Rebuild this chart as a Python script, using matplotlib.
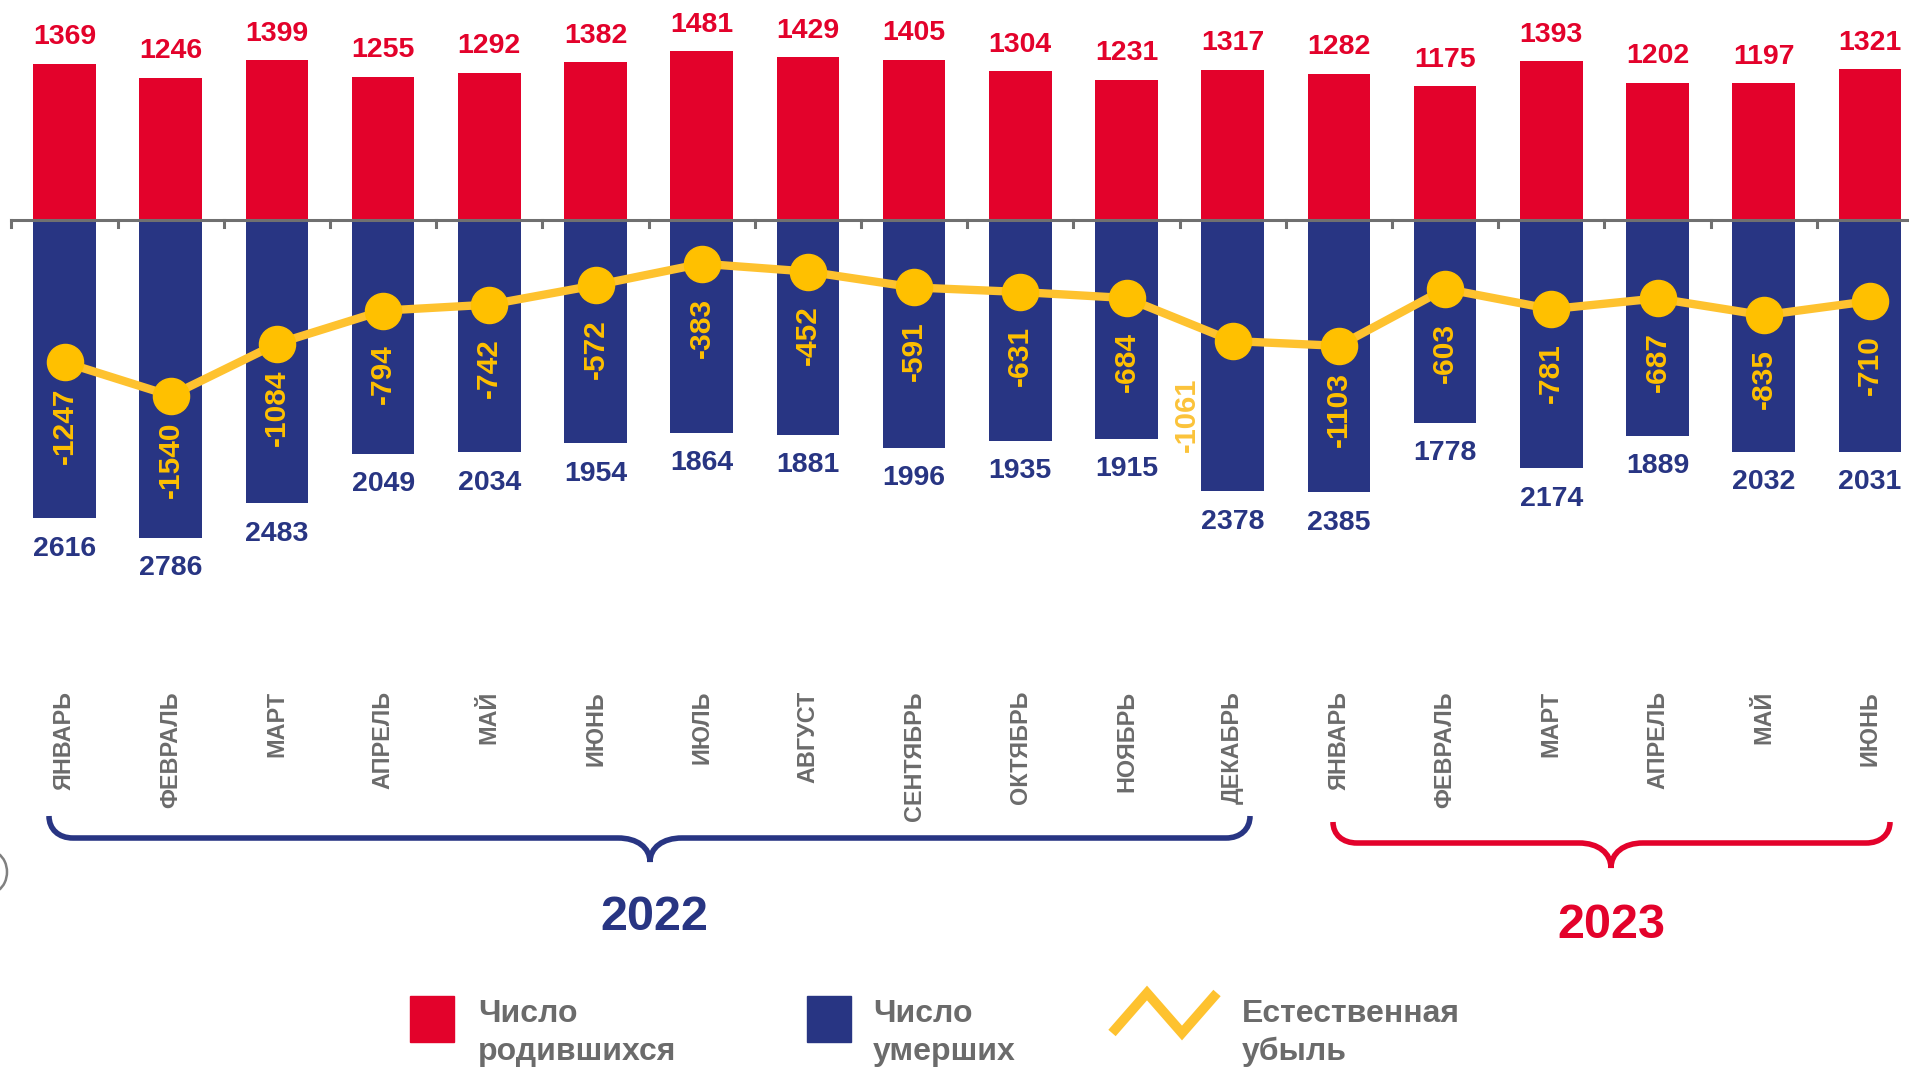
import matplotlib.pyplot as plt
from matplotlib.path import Path
from matplotlib.patches import PathPatch, Rectangle, Arc

# data
months = ["ЯНВАРЬ", "ФЕВРАЛЬ", "МАРТ", "АПРЕЛЬ", "МАЙ", "ИЮНЬ", "ИЮЛЬ", "АВГУСТ",
          "СЕНТЯБРЬ", "ОКТЯБРЬ", "НОЯБРЬ", "ДЕКАБРЬ",
          "ЯНВАРЬ", "ФЕВРАЛЬ", "МАРТ", "АПРЕЛЬ", "МАЙ", "ИЮНЬ"]
births = [1369, 1246, 1399, 1255, 1292, 1382, 1481, 1429, 1405, 1304, 1231, 1317,
          1282, 1175, 1393, 1202, 1197, 1321]
deaths = [2616, 2786, 2483, 2049, 2034, 1954, 1864, 1881, 1996, 1935, 1915, 2378,
          2385, 1778, 2174, 1889, 2032, 2031]
decline = [-1247, -1540, -1084, -794, -742, -572, -383, -452, -591, -631, -684, -1061,
           -1103, -603, -781, -687, -835, -710]
years = ["2022", "2023"]

RED = "#E3022B"
NAVY = "#283583"
YEL = "#FFC000"
YEL_LINE = "#FEC22F"
GRAY = "#6B6B6B"

W, H = 1909, 1070
plt.rcParams['font.family'] = ['Liberation Sans', 'DejaVu Sans']
plt.rcParams['font.weight'] = 'bold'

fig = plt.figure(figsize=(W / 100, H / 100), dpi=100)

# main axes spans the whole figure, zero line at 220 px from the top
step, x0c = 106.2, 64.5
yscale, y0 = 0.1141, 220
ax = fig.add_axes([0, 0, 1, 1])
ax.set_xlim(-x0c / step, (W - x0c) / step)
ax.set_ylim(-(H - y0) / yscale, y0 / yscale)
ax.axis("off")

x = list(range(len(months)))
neg_deaths = [-d for d in deaths]
ax.bar(x, births, width=0.59, color=RED, zorder=2)
ax.bar(x, neg_deaths, width=0.59, color=NAVY, zorder=2)

# zero line with small ticks between categories
ax.plot([-0.5, 18], [0, 0], color="#707070", lw=2.2, zorder=3)
for b in range(len(months) + 1):
    ax.plot([b - 0.5, b - 0.5], [0, -60], color="#707070", lw=2.2, zorder=3)

ax.plot(x, decline, color=YEL_LINE, lw=6, zorder=4)
ax.plot(x, decline, "o", color=YEL, markersize=26, zorder=5)

for i in x:
    ax.annotate(str(births[i]), (i, births[i]), xytext=(0, 19), textcoords="offset points",
                ha="center", va="center", color=RED, fontsize=20.5, fontweight="bold")
    ax.annotate(str(deaths[i]), (i, neg_deaths[i]), xytext=(0, -22), textcoords="offset points",
                ha="center", va="center", color=NAVY, fontsize=20.5, fontweight="bold")
    if months[i] == "ДЕКАБРЬ":
        ax.annotate(str(decline[i]), (i, decline[i]), xytext=(-33, -53), textcoords="offset points",
                    ha="center", va="center", rotation=90, color="#FBC33A",
                    fontsize=21, fontweight="bold", zorder=6)
    else:
        ax.annotate(str(decline[i]), (i, decline[i]), xytext=(0, -46), textcoords="offset points",
                    ha="center", va="center", rotation=90, color=YEL,
                    fontsize=21.5, fontweight="bold", zorder=6)

# overlay in pixel coordinates for labels, braces and legend
ov = fig.add_axes([0, 0, 1, 1])
ov.set_xlim(0, W)
ov.set_ylim(H, 0)
ov.axis("off")
ov.patch.set_alpha(0)

for i, m in enumerate(months):
    ov.text(x0c + step * i, 691, m, rotation=90, ha="center", va="top",
            color=GRAY, fontsize=16.8, fontweight="bold")


def brace(x0, x1, xm, ytop, yline, ytip, color):
    r, r2 = 24, 32
    verts = [(x0, ytop),
             (x0, ytop + 0.6 * (yline - ytop)), (x0 + 0.4 * r, yline), (x0 + r, yline),
             (xm - r2, yline),
             (xm - 0.4 * r2, yline), (xm, yline + 0.4 * (ytip - yline)), (xm, ytip),
             (xm, yline + 0.4 * (ytip - yline)), (xm + 0.4 * r2, yline), (xm + r2, yline),
             (x1 - r, yline),
             (x1 - 0.4 * r, yline), (x1, ytop + 0.6 * (yline - ytop)), (x1, ytop)]
    codes = ([Path.MOVETO] + [Path.CURVE4] * 3 + [Path.LINETO] + [Path.CURVE4] * 6
             + [Path.LINETO] + [Path.CURVE4] * 3)
    ov.add_patch(PathPatch(Path(verts, codes), fill=False, edgecolor=color, lw=4,
                           capstyle="butt", joinstyle="miter"))


brace(49, 1250, 650, 816, 838, 862, NAVY)
brace(1333, 1890, 1611, 822, 843, 868, RED)

ov.text(654, 918, years[0], ha="center", va="center", color=NAVY, fontsize=35, fontweight="bold")
ov.text(1611, 925, years[1], ha="center", va="center", color=RED, fontsize=35, fontweight="bold")

# cropped bracket fragment at the left edge
ov.add_patch(Arc((-10, 872), 34, 42, theta1=-65, theta2=65, color="#808080", lw=1.8))

# legend
ov.add_patch(Rectangle((410, 996), 44, 46, color=RED))
ov.add_patch(Rectangle((807, 996), 44, 46, color=NAVY))
ov.plot([1112, 1147, 1182, 1217], [1033, 993, 1033, 993], color=YEL_LINE, lw=7,
        solid_capstyle="butt", solid_joinstyle="miter")

leg_text = [(478, "Число", "родившихся"), (873, "Число", "умерших"), (1242, "Естественная", "убыль")]
for lx, l1, l2 in leg_text:
    ov.text(lx, 1014, l1, ha="left", va="center", color=GRAY, fontsize=23, fontweight="bold")
    ov.text(lx, 1052, l2, ha="left", va="center", color=GRAY, fontsize=23, fontweight="bold")

fig.savefig("out.png", dpi=100)
